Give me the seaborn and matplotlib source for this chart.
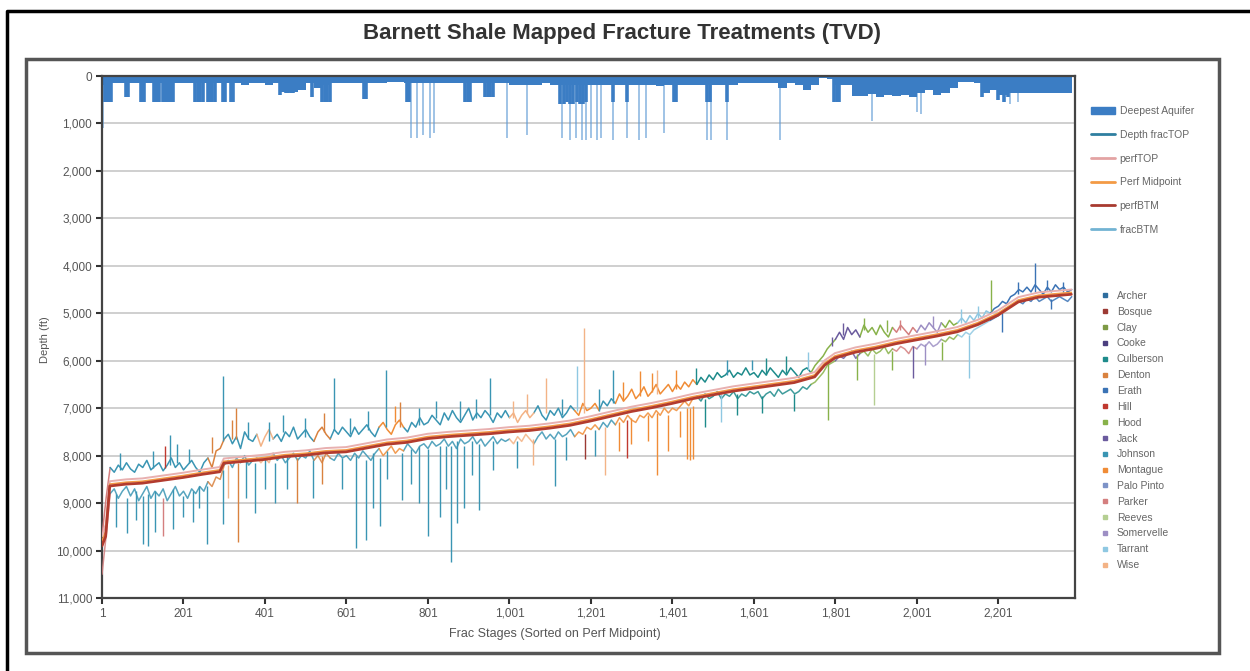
import matplotlib
matplotlib.use('Agg')
import pandas as pd
import matplotlib.pyplot as plt
import seaborn as sns
from matplotlib.patches import Patch, Rectangle
from matplotlib.lines import Line2D
from matplotlib.ticker import FuncFormatter

# ---- data (depths in ft, TVD) ----
# deepest aquifer: shallow base, one value per 20-stage bin
aq_stage = list(range(1, 2382, 20))
aq_base = [200, 150, 150, 150, 150, 150, 150, 150, 150, 150,
           150, 150, 150, 150, 150, 150, 150, 200, 150, 150,
           200, 150, 330, 330, 300, 150, 250, 200, 150, 150,
           150, 150, 150, 150, 150, 120, 120, 150, 150, 150,
           150, 150, 150, 150, 150, 150, 150, 150, 150, 150,
           180, 180, 180, 180, 150, 180, 200, 200, 200, 200,
           200, 200, 200, 200, 200, 200, 200, 200, 220, 200,
           200, 200, 200, 200, 200, 200, 200, 200, 150, 150,
           150, 150, 150, 250, 150, 200, 300, 200, 50, 60,
           200, 200, 420, 420, 380, 450, 400, 420, 400, 440,
           350, 300, 400, 350, 250, 130, 130, 150, 350, 300,
           400, 350, 360, 360, 360, 360, 360, 360, 360, 360]
# deeper aquifer bars
aq_bar_stage = [8, 13, 18, 23, 60, 64, 96, 100, 104, 128, 133, 138, 142, 150, 155, 160,
                165, 170, 175, 230, 236, 242, 248, 260, 266, 272, 278, 297, 303, 317,
                323, 438, 452, 458, 464, 470, 516, 542, 548, 554, 560, 644, 648, 750,
                754, 893, 899, 905, 942, 948, 954, 960, 1126, 1134, 1142, 1150, 1158,
                1166, 1174, 1182, 1188, 1256, 1290, 1405, 1409, 1485, 1493, 1534, 1798,
                1804, 1810, 2161, 2200, 2215, 2225]
aq_bar_depth = [550, 550, 550, 550, 450, 450, 550, 550, 550, 550, 550, 550, 550, 550, 550, 550,
                550, 550, 550, 550, 550, 550, 550, 550, 550, 550, 550, 550, 550, 550,
                550, 400, 350, 350, 350, 350, 450, 550, 550, 550, 550, 480, 480, 550,
                550, 550, 550, 550, 450, 450, 450, 450, 600, 600, 550, 600, 600,
                550, 600, 600, 550, 550, 550, 550, 550, 550, 550, 550, 550,
                550, 550, 450, 500, 550, 450]
# thin aquifer spikes
aq_spike_stage = [3, 760, 775, 790, 805, 815, 995, 1043, 1130, 1150, 1165, 1180,
                  1190, 1200, 1215, 1225, 1256, 1290, 1320, 1335, 1380, 1485,
                  1495, 1534, 1665, 1890, 2000, 2010, 2230, 2250]
aq_spike_depth = [1100, 1300, 1300, 1250, 1300, 1200, 1300, 1250, 1300, 1350, 1300, 1350,
                  1350, 1300, 1350, 1300, 1350, 1300, 1350, 1300, 1200, 1350,
                  1350, 1350, 1350, 950, 750, 800, 600, 550]

# frac top / bottom, one value per 10 stages (rows of 200 stages)
frac_stage = list(range(1, 2382, 10))
frac_top = [
    9700, 8900, 8250, 8350, 8200, 8300, 8150, 8280, 8350, 8180, 8250, 8100, 8300, 8220, 8150, 8320, 8200, 8050, 8250, 8150,
    8300, 8200, 8100, 8250, 8350, 8150, 8050, 8250, 7900, 7850, 7650, 7550, 7750, 7600, 7850, 7500, 7650, 7700, 7550, 7800,
    7600, 7450, 7650, 7550, 7700, 7500, 7600, 7400, 7650, 7550, 7450, 7600, 7700, 7500, 7400, 7550, 7650, 7450, 7550, 7400,
    7500, 7600, 7400, 7550, 7450, 7350, 7500, 7600, 7400, 7300, 7450, 7550, 7350, 7250, 7400, 7500, 7300, 7400, 7200, 7350,
    7300, 7150, 7250, 7350, 7100, 7250, 7050, 7200, 7300, 7150, 7000, 7250, 7100, 7200, 7050, 7150, 7300, 7100, 7200, 7050,
    7200, 7100, 7300, 7150, 7050, 7200, 7100, 6950, 7150, 7250, 7050, 7150, 7000, 7200, 7100, 6950, 7050, 7150, 6900, 7050,
    7000, 6900, 7050, 6850, 6950, 6800, 6900, 6700, 6850, 6750, 6600, 6800, 6700, 6550, 6750, 6650, 6500, 6700, 6600, 6500,
    6650, 6500, 6600, 6450, 6550, 6400, 6500, 6350, 6450, 6300, 6400, 6250, 6350, 6300, 6200, 6350, 6250, 6300, 6150, 6300,
    6250, 6350, 6200, 6300, 6150, 6250, 6350, 6200, 6300, 6150, 6250, 6350, 6200, 6150, 6250, 6100, 6000, 5900, 5750, 5650,
    5550, 5400, 5550, 5300, 5450, 5350, 5500, 5250, 5400, 5300, 5450, 5250, 5400, 5500, 5300, 5400, 5250, 5350, 5450, 5300,
    5400, 5250, 5350, 5200, 5300, 5400, 5200, 5300, 5150, 5250, 5200, 5100, 5200, 5050, 5150, 5000, 5100, 4950, 5000, 4900,
    4850, 4750, 4800, 4650, 4600, 4500, 4550, 4450, 4550, 4400, 4500, 4600, 4450, 4550, 4400, 4500, 4450, 4550, 4500]
frac_btm = [
    10500, 9700, 8800, 8700, 8900, 8750, 8650, 8850, 8700, 8950, 8800, 8650, 8900, 8750, 8850, 8700, 8950, 8800, 8650, 8850,
    8750, 8900, 8700, 8800, 8650, 8750, 8550, 8650, 8450, 8500, 8200, 8100, 8250, 8050, 8150, 8000, 8200, 8100, 8050, 8150,
    8050, 8150, 7950, 8100, 8000, 8150, 8050, 7950, 8100, 8000, 8050, 7900, 8100, 8000, 8150, 7950, 8050, 8100, 7950, 8050,
    8000, 8100, 7950, 8050, 7900, 8000, 8100, 7950, 7850, 8000, 7900, 7800, 7950, 7850, 7900, 7750, 7850, 7950, 7800, 7750,
    7850, 7700, 7800, 7750, 7650, 7800, 7700, 7850, 7650, 7750, 7700, 7600, 7750, 7650, 7800, 7700, 7600, 7750, 7650, 7700,
    7650, 7750, 7600, 7700, 7550, 7650, 7750, 7600, 7500, 7650, 7550, 7650, 7500, 7600, 7550, 7450, 7600, 7500, 7550, 7400,
    7450, 7350, 7450, 7300, 7400, 7250, 7350, 7200, 7300, 7150, 7250, 7300, 7150, 7200, 7100, 7200, 7050, 7150, 7000, 7100,
    7000, 7050, 6950, 6850, 6950, 6800, 6750, 6850, 6700, 6800, 6750, 6650, 6800, 6700, 6750, 6650, 6800, 6700, 6750, 6650,
    6700, 6650, 6800, 6700, 6650, 6750, 6600, 6700, 6650, 6600, 6700, 6650, 6550, 6600, 6500, 6450, 6350, 6250, 6100, 6050,
    6000, 5900, 5950, 5850, 5800, 5950, 5850, 5800, 5900, 5750, 5850, 5800, 5700, 5850, 5750, 5800, 5700, 5750, 5850, 5700,
    5750, 5650, 5700, 5600, 5700, 5650, 5550, 5600, 5500, 5550, 5450, 5500, 5400, 5450, 5350, 5300, 5250, 5200, 5150, 5100,
    5050, 4950, 4900, 4850, 4800, 4750, 4800, 4700, 4750, 4650, 4750, 4700, 4650, 4750, 4700, 4650, 4700, 4750, 4650]

# which county the stages belong to (segment start stage)
seg_start = [1, 21, 261, 301, 381, 421, 521, 561, 681, 741, 1001, 1061,
             1161, 1221, 1261, 1461, 1741, 1801, 1861, 1941, 2001, 2061, 2101, 2181]
seg_county = ['Parker', 'Johnson', 'Denton', 'Johnson', 'Wise', 'Johnson', 'Denton',
              'Johnson', 'Montague', 'Johnson', 'Wise', 'Johnson', 'Montague', 'Johnson',
              'Montague', 'Culberson', 'Hood', 'Jack', 'Hood', 'Parker', 'Somervelle',
              'Hood', 'Tarrant', 'Erath']

# single-stage frac spikes: (stage, band depth, spike depth, county)
frac_spikes = [
    (62, 8900, 9620, 'Johnson'), (102, 8850, 9870, 'Johnson'), (114, 8800, 9900, 'Johnson'),
    (151, 8900, 9700, 'Parker'), (200, 8850, 9300, 'Johnson'), (259, 8650, 9870, 'Johnson'),
    (298, 8300, 9450, 'Johnson'), (335, 8150, 9810, 'Denton'), (376, 8150, 9200, 'Johnson'),
    (425, 8150, 9000, 'Johnson'), (480, 8050, 9000, 'Denton'), (624, 8000, 9940, 'Johnson'),
    (649, 8100, 9770, 'Johnson'), (683, 8050, 9490, 'Johnson'), (737, 7950, 8930, 'Johnson'),
    (801, 7850, 9700, 'Johnson'), (830, 7800, 9300, 'Johnson'), (857, 7800, 10250, 'Johnson'),
    (872, 7700, 9410, 'Johnson'), (926, 7750, 9140, 'Johnson'), (1113, 7650, 8650, 'Johnson'),
    (1186, 7550, 8080, 'Bosque'), (1235, 7400, 8400, 'Wise'), (1289, 7250, 8040, 'Hill'),
    (1363, 7100, 8400, 'Montague'), (1436, 7000, 8080, 'Montague'), (1444, 7000, 8100, 'Montague'),
    (1452, 6950, 8080, 'Montague'), (1520, 6700, 7300, 'Tarrant'), (1783, 6050, 7240, 'Hood'),
    (1854, 5850, 6400, 'Hood'), (1896, 5850, 6930, 'Reeves'), (1991, 5700, 6360, 'Jack'),
    (2062, 5600, 5980, 'Hood'), (2128, 5450, 6360, 'Tarrant'),
    (35, 8800, 9500, 'Johnson'), (85, 8750, 9350, 'Johnson'), (130, 8750, 9600, 'Johnson'),
    (175, 8700, 9550, 'Johnson'), (225, 8750, 9400, 'Johnson'), (240, 8650, 9100, 'Johnson'),
    (310, 8200, 8900, 'Wise'), (355, 8100, 8900, 'Johnson'), (400, 8050, 8700, 'Johnson'),
    (455, 8000, 8700, 'Johnson'), (520, 8100, 8900, 'Johnson'), (540, 8000, 8600, 'Denton'),
    (590, 8050, 8700, 'Johnson'), (665, 7950, 9100, 'Johnson'), (700, 7900, 8500, 'Johnson'),
    (760, 7850, 8600, 'Johnson'), (780, 7800, 9000, 'Johnson'), (845, 7800, 8700, 'Johnson'),
    (890, 7800, 9100, 'Johnson'), (910, 7700, 8400, 'Johnson'), (960, 7700, 8300, 'Johnson'),
    (1020, 7700, 8250, 'Johnson'), (1060, 7650, 8200, 'Wise'), (1140, 7600, 8100, 'Johnson'),
    (1210, 7450, 8000, 'Johnson'), (1270, 7300, 7900, 'Montague'), (1300, 7200, 7750, 'Montague'),
    (1340, 7150, 7700, 'Montague'), (1390, 7150, 7900, 'Montague'), (1420, 7050, 7600, 'Montague'),
    (1480, 6800, 7400, 'Culberson'), (1560, 6700, 7150, 'Culberson'), (1620, 6750, 7100, 'Culberson'),
    (1700, 6700, 7050, 'Culberson'), (1940, 5800, 6200, 'Hood'), (2020, 5650, 6100, 'Somervelle'),
    (2210, 5000, 5400, 'Erath'), (2330, 4700, 4900, 'Erath'),
    (298, 7700, 6330, 'Johnson'), (570, 7450, 6360, 'Johnson'), (698, 7400, 6190, 'Johnson'),
    (733, 7400, 6860, 'Denton'), (953, 7150, 6360, 'Johnson'), (1091, 7100, 6360, 'Wise'),
    (1167, 7050, 6120, 'Tarrant'), (1184, 7100, 5310, 'Wise'), (1255, 6900, 6190, 'Johnson'),
    (1321, 6750, 6220, 'Montague'), (1363, 6700, 6190, 'Wise'), (1535, 6300, 5980, 'Johnson'),
    (1596, 6200, 5980, 'Johnson'), (1734, 6200, 5810, 'Tarrant'), (1793, 5700, 5490, 'Jack'),
    (1928, 5400, 5140, 'Hood'), (2182, 4950, 4300, 'Hood'), (2290, 4550, 3940, 'Erath'),
    (330, 7650, 7000, 'Denton'), (155, 8250, 7800, 'Hill'), (168, 8200, 7560, 'Johnson'),
    (185, 8150, 7750, 'Johnson'),
    (45, 8300, 7950, 'Johnson'), (125, 8250, 7900, 'Johnson'), (215, 8150, 7850, 'Johnson'),
    (270, 7950, 7600, 'Denton'), (320, 7650, 7250, 'Denton'), (360, 7650, 7300, 'Johnson'),
    (410, 7700, 7300, 'Johnson'), (445, 7500, 7150, 'Johnson'), (500, 7600, 7200, 'Johnson'),
    (545, 7500, 7100, 'Denton'), (610, 7550, 7200, 'Johnson'), (655, 7450, 7050, 'Johnson'),
    (720, 7300, 6950, 'Montague'), (780, 7350, 7000, 'Johnson'), (820, 7200, 6850, 'Johnson'),
    (880, 7250, 6850, 'Johnson'), (920, 7200, 6800, 'Johnson'), (1010, 7200, 6850, 'Wise'),
    (1045, 7100, 6700, 'Wise'), (1130, 7150, 6800, 'Johnson'), (1220, 7050, 6600, 'Johnson'),
    (1280, 6850, 6450, 'Montague'), (1350, 6650, 6250, 'Montague'), (1410, 6600, 6200, 'Montague'),
    (1460, 6500, 6150, 'Culberson'), (1630, 6300, 5950, 'Culberson'), (1680, 6250, 5900, 'Culberson'),
    (1820, 5450, 5200, 'Jack'), (1870, 5350, 5100, 'Hood'), (1960, 5350, 5150, 'Parker'),
    (2040, 5300, 5050, 'Somervelle'), (2110, 5200, 4900, 'Tarrant'), (2150, 5100, 4850, 'Tarrant'),
    (2250, 4600, 4350, 'Erath'), (2320, 4500, 4300, 'Erath'), (2360, 4550, 4350, 'Erath')]

# perforation interval
perf_stage = [1, 10, 20, 60, 100, 150, 200, 250, 290, 300, 350, 400, 450, 500, 550, 600,
              650, 700, 750, 800, 850, 900, 950, 1000, 1050, 1100, 1150, 1200, 1250, 1300,
              1350, 1400, 1450, 1500, 1550, 1600, 1650, 1700, 1750, 1775, 1800, 1850, 1900,
              1950, 2000, 2050, 2100, 2150, 2200, 2250, 2300, 2380]
perf_top = [9700, 9450, 8540, 8500, 8480, 8420, 8360, 8290, 8240, 8060, 8020, 7980, 7920,
            7890, 7840, 7820, 7740, 7660, 7620, 7540, 7500, 7470, 7440, 7400, 7370, 7320,
            7260, 7170, 7070, 6970, 6890, 6800, 6700, 6620, 6540, 6480, 6420, 6360, 6240,
            5990, 5840, 5720, 5640, 5540, 5460, 5380, 5290, 5140, 4940, 4660, 4560, 4500]
perf_mid = [9800, 9600, 8600, 8560, 8540, 8480, 8420, 8350, 8300, 8120, 8080, 8040, 7980,
            7950, 7900, 7880, 7800, 7720, 7680, 7600, 7560, 7530, 7500, 7460, 7430, 7380,
            7320, 7230, 7130, 7030, 6950, 6860, 6760, 6680, 6600, 6540, 6480, 6420, 6300,
            6050, 5900, 5780, 5700, 5600, 5520, 5440, 5350, 5200, 5000, 4720, 4620, 4560]
perf_btm = [9900, 9700, 8640, 8600, 8580, 8520, 8460, 8390, 8340, 8160, 8120, 8080, 8020,
            7990, 7940, 7920, 7840, 7760, 7720, 7640, 7600, 7570, 7540, 7500, 7470, 7420,
            7360, 7270, 7170, 7070, 6990, 6900, 6800, 6720, 6640, 6580, 6520, 6460, 6340,
            6090, 5940, 5820, 5740, 5640, 5560, 5480, 5390, 5240, 5040, 4760, 4660, 4600]

counties = ['Archer', 'Bosque', 'Clay', 'Cooke', 'Culberson', 'Denton', 'Erath', 'Hill',
            'Hood', 'Jack', 'Johnson', 'Montague', 'Palo Pinto', 'Parker', 'Reeves',
            'Somervelle', 'Tarrant', 'Wise']
county_colors = ['#2e6d9e', '#9c3a33', '#7e9a45', '#4b3f7f', '#1e8b8b', '#d9823f',
                 '#3b73b5', '#c0392f', '#88b24a', '#6b5b9e', '#3a95b3', '#f08c36',
                 '#7d93c7', '#d47f7f', '#b5cf92', '#9d8fc4', '#8fc8e2', '#f3b386']
palette = dict(zip(counties, county_colors))

# ---- long tables ----
rows = []
for i, start in enumerate(seg_start):
    end = seg_start[i + 1] if i + 1 < len(seg_start) else 99999
    for s, t, b in zip(frac_stage, frac_top, frac_btm):
        if start <= s <= end:
            rows.append((s, t, 'top', i, seg_county[i]))
            rows.append((s, b, 'btm', i, seg_county[i]))
frac = pd.DataFrame(rows, columns=['stage', 'depth', 'kind', 'seg', 'county'])
spikes = pd.DataFrame(frac_spikes, columns=['stage', 'base', 'tip', 'county'])

perf = pd.DataFrame({'stage': perf_stage * 3,
                     'depth': perf_top + perf_mid + perf_btm,
                     'series': ['perfTOP'] * len(perf_stage) + ['Perf Midpoint'] * len(perf_stage)
                               + ['perfBTM'] * len(perf_stage)})

# ---- figure ----
sns.set_theme(style='white')
plt.rcParams['font.family'] = ['Liberation Sans', 'DejaVu Sans']

W, H = 1250, 671
fig = plt.figure(figsize=(12.5, 6.71), dpi=100)
ax = fig.add_axes([102 / W, 1 - 598 / H, (1075 - 102) / W, (598 - 76) / H])

aq_color = '#3b7dc4'
ax.vlines(aq_spike_stage, 0, aq_spike_depth, color='#5f9bd6', lw=1.2, alpha=0.7, zorder=2)
ax.fill_between(aq_stage, 0, aq_base, step='post', color=aq_color, lw=0, zorder=2)
ax.vlines(aq_bar_stage, 0, aq_bar_depth, color=aq_color, lw=2.6, zorder=2)

sns.lineplot(data=frac[frac.kind == 'btm'], x='stage', y='depth', hue='county', units='seg',
             estimator=None, palette=palette, lw=1.1, alpha=0.85, legend=False, ax=ax, zorder=3)
sns.lineplot(data=frac[frac.kind == 'top'], x='stage', y='depth', hue='county', units='seg',
             estimator=None, palette=palette, lw=1.1, legend=False, ax=ax, zorder=3)
ax.vlines(spikes.stage, spikes.base, spikes.tip, colors=spikes.county.map(palette),
          lw=1.0, zorder=3)

perf_pal = {'perfTOP': '#e8b0b0', 'Perf Midpoint': '#f39a45', 'perfBTM': '#b23b2e'}
perf_lw = {'perfTOP': 1.4, 'Perf Midpoint': 1.2, 'perfBTM': 2.0}
for name in ['perfTOP', 'Perf Midpoint', 'perfBTM']:
    sns.lineplot(data=perf[perf.series == name], x='stage', y='depth', color=perf_pal[name],
                 estimator=None, lw=perf_lw[name], ax=ax, zorder=4)

ax.set_xlim(1, 2389)
ax.set_ylim(11000, 0)
ax.set_xticks([1, 201, 401, 601, 801, 1001, 1201, 1401, 1601, 1801, 2001, 2201])
ax.set_yticks(range(0, 11001, 1000))
ax.xaxis.set_major_formatter(FuncFormatter(lambda v, p: f'{int(v):,}'))
ax.yaxis.set_major_formatter(FuncFormatter(lambda v, p: f'{int(v):,}'))
ax.tick_params(labelsize=8.5, labelcolor='#555555', color='#333333', length=4, width=1.5,
               bottom=True, left=True, direction='out', pad=3)
ax.yaxis.grid(True, color='#cccccc', lw=1.3)
ax.xaxis.grid(False)
ax.set_axisbelow(True)
for sp in ax.spines.values():
    sp.set_color('#444444')
    sp.set_linewidth(1.6)
ax.set_xlabel('')
ax.set_ylabel('')

fig.text(555 / W, 1 - 634 / H, 'Frac Stages (Sorted on Perf Midpoint)', ha='center',
         va='center', fontsize=9, color='#555555')
fig.text(45 / W, 1 - 340 / H, 'Depth (ft)', ha='center', va='center', rotation=90,
         fontsize=8, color='#555555')
fig.text(622 / W, 1 - 33 / H, 'Barnett Shale Mapped Fracture Treatments (TVD)', ha='center',
         va='center', fontsize=16, fontweight='bold', color='#333333')

# frames
fig.add_artist(Rectangle((26 / W, 1 - 653 / H), (1219 - 26) / W, (653 - 59) / H,
                         transform=fig.transFigure, fill=False, ec='#555555', lw=2.5))
fig.add_artist(Line2D([7 / W, 7 / W, 1], [0, 1 - 11 / H, 1 - 11 / H],
                      transform=fig.transFigure, color='black', lw=2.5))

# legends
series_handles = [Patch(color=aq_color),
                  Line2D([], [], color='#2f7fa0', lw=2),
                  Line2D([], [], color='#e3a3a3', lw=2),
                  Line2D([], [], color='#f39a45', lw=2),
                  Line2D([], [], color='#a83a30', lw=2),
                  Line2D([], [], color='#72b3d3', lw=2)]
series_labels = ['Deepest Aquifer', 'Depth fracTOP', 'perfTOP', 'Perf Midpoint', 'perfBTM',
                 'fracBTM']
fig.legend(series_handles, series_labels, loc='upper left', bbox_to_anchor=(1091 / W, 1 - 106 / H),
           frameon=False, fontsize=7.5, labelspacing=1.32, handlelength=2.3,
           handletextpad=0.45, borderpad=0, borderaxespad=0, labelcolor='#666666')

county_handles = [Line2D([], [], ls='none', marker='s', ms=3.5, color=c) for c in county_colors]
fig.legend(county_handles, counties, loc='upper left', bbox_to_anchor=(1101 / W, 1 - 291 / H),
           frameon=False, fontsize=7.5, labelspacing=0.56, handlelength=0.8,
           handletextpad=0.7, borderpad=0, borderaxespad=0, labelcolor='#666666')

fig.savefig('out.png', dpi=100)
